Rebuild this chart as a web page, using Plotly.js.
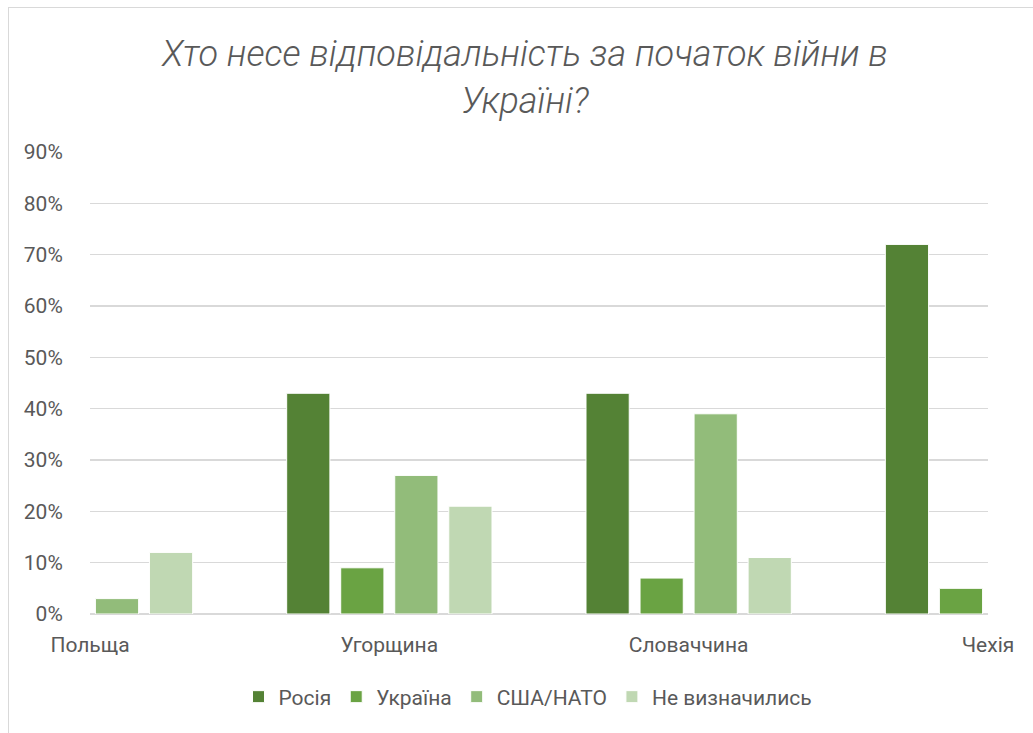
<!DOCTYPE html>
<html>
<head>
<meta charset="utf-8">
<script src="https://cdn.plot.ly/plotly-3.0.1.min.js"></script>
<style>
  html, body { margin: 0; padding: 0; background: #ffffff; }
  #wrap { position: relative; width: 1033px; height: 733px; overflow: hidden; }
  #chart { position: absolute; left: 0; top: 0; width: 1033px; height: 733px; }
  #frame { position: absolute; left: 8px; top: 7px; width: 1100px; height: 800px;
           border-left: 1px solid #d9d9d9; border-top: 1px solid #d9d9d9; pointer-events: none; }
</style>
</head>
<body>
<div id="wrap">
  <div id="chart"></div>
  <div id="frame"></div>
</div>
<script>
const categories = ["Польща", "Угорщина", "Словаччина", "Чехія"];
const seriesNames = ["Росія", "Україна", "США/НАТО", "Не визначились"];
const russia    = [null, 43, 43, 72];
const ukraine   = [null, 9, 7, 5];
const usaNato   = [3, 27, 39, null];
const undecided = [12, 21, 11, null];
const yTicks = [0, 10, 20, 30, 40, 50, 60, 70, 80, 90];
const yTickLabels = ["0%", "10%", "20%", "30%", "40%", "50%", "60%", "70%", "80%", "90%"];
const titleText = "Хто несе відповідальність за початок війни в<br>Україні?";

const colors = ["#548235", "#6aa343", "#92bc7a", "#c0d8b3"];
const values = [russia, ukraine, usaNato, undecided];
const FONT = "Roboto, 'Open Sans', sans-serif";
const GREY = "#595959";

const data = values.map((v, i) => ({
  type: "bar",
  name: seriesNames[i],
  x: categories,
  y: v,
  marker: { color: colors[i], line: { color: "#ffffff", width: 1 } },
  hoverinfo: "x+y+name"
}));

const layout = {
  width: 1033,
  height: 733,
  paper_bgcolor: "#ffffff",
  plot_bgcolor: "#ffffff",
  margin: { l: 90, r: 45, t: 152, b: 119, pad: 0 },
  barmode: "group",
  bargap: 0.278,
  bargroupgap: 0.2,
  title: {
    text: titleText,
    font: { family: FONT, size: 36, color: GREY, style: "italic", weight: 300 },
    x: 525 / 1033,
    xanchor: "center",
    xref: "container",
    y: 1 - 66 / 733,
    yanchor: "middle",
    yref: "container"
  },
  xaxis: {
    type: "category",
    range: [0, 3],
    showgrid: false,
    showline: false,
    zeroline: false,
    ticks: "outside",
    ticklen: 12,
    tickcolor: "rgba(0,0,0,0)",
    tickfont: { family: FONT, size: 21, color: GREY },
    fixedrange: true
  },
  yaxis: {
    range: [0, 90],
    tickvals: yTicks,
    ticktext: yTickLabels,
    showgrid: true,
    gridcolor: "#d9d9d9",
    gridwidth: 1.3,
    zeroline: true,
    zerolinecolor: "#d9d9d9",
    zerolinewidth: 2,
    showline: false,
    ticks: "outside",
    ticklen: 22,
    tickcolor: "rgba(0,0,0,0)",
    tickfont: { family: FONT, size: 21, color: GREY },
    fixedrange: true
  },
  legend: {
    orientation: "h",
    xref: "container",
    yref: "container",
    x: 528 / 1033,
    xanchor: "center",
    y: 1 - 697 / 733,
    yanchor: "middle",
    font: { family: FONT, size: 21, color: GREY },
    itemclick: false,
    itemdoubleclick: false
  },
  showlegend: true
};

Plotly.newPlot("chart", data, layout, { displayModeBar: false, staticPlot: true });
</script>
</body>
</html>
